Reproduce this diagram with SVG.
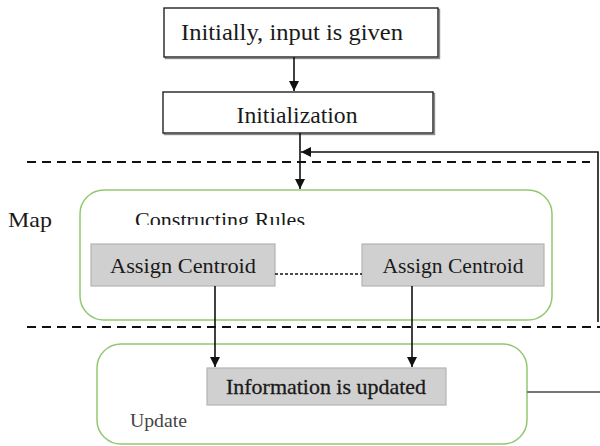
<svg xmlns="http://www.w3.org/2000/svg" width="600" height="446" viewBox="0 0 600 446">
  <style>
    text { font-family: 'Liberation Serif', 'Times New Roman', Times, serif; fill: #1a1a1a; }
    .box { fill: #ffffff; stroke: #222222; stroke-width: 1.4; }
    .shadow { fill: none; stroke: #8a8a8a; stroke-width: 1.4; }
    .stage { fill: #ffffff; stroke: #93c872; stroke-width: 1.5; }
    .step { fill: #d0d0d0; stroke: #b4b4b4; stroke-width: 1.2; }
    .wire { fill: none; stroke: #111111; stroke-width: 1.6; }
    .sep { fill: none; stroke: #111111; stroke-width: 1.8; stroke-dasharray: 9 6; }
  </style>
  <defs>
    <marker id="head" viewBox="0 0 10 10" refX="10" refY="5" markerWidth="10" markerHeight="10" markerUnits="userSpaceOnUse" orient="auto">
      <path d="M0,0 L10,5 L0,10 Z" fill="#111111"/>
    </marker>
    <clipPath id="titleClip">
      <rect x="120" y="200" width="220" height="25"/>
    </clipPath>
  </defs>

  <!-- phase separators and side label -->
  <g id="separators">
    <line class="sep" x1="27" y1="162" x2="590" y2="162"/>
    <line class="sep" x1="27" y1="327" x2="600" y2="327"/>
    <text x="8" y="227" font-size="22" textLength="44" lengthAdjust="spacingAndGlyphs">Map</text>
  </g>

  <g id="input">
    <rect class="shadow" x="165.5" y="9.5" width="274" height="49"/>
    <rect class="box" x="164" y="8" width="274" height="49"/>
    <text x="292" y="40" font-size="23" text-anchor="middle" textLength="222" lengthAdjust="spacingAndGlyphs">Initially, input is given</text>
  </g>

  <g id="init">
    <rect class="shadow" x="164.5" y="93.5" width="270" height="41"/>
    <rect class="box" x="163" y="92" width="270" height="41"/>
    <text x="297" y="123" font-size="23" text-anchor="middle" textLength="121" lengthAdjust="spacingAndGlyphs">Initialization</text>
  </g>

  <g id="map-stage">
    <rect class="stage" x="80" y="190" width="472" height="130" rx="24" ry="24"/>
    <text x="135" y="227" font-size="22" clip-path="url(#titleClip)" textLength="170" lengthAdjust="spacingAndGlyphs">Constructing Rules</text>
  </g>

  <g id="centroid-a">
    <rect class="step" x="91" y="244" width="184" height="42"/>
    <text x="183" y="273" font-size="22" text-anchor="middle" textLength="146" lengthAdjust="spacingAndGlyphs">Assign Centroid</text>
  </g>

  <g id="centroid-b">
    <rect class="step" x="362" y="244" width="182" height="42"/>
    <text x="453" y="273" font-size="22" text-anchor="middle" textLength="141" lengthAdjust="spacingAndGlyphs">Assign Centroid</text>
  </g>

  <g id="update-stage">
    <rect class="stage" x="97" y="344" width="430" height="100" rx="24" ry="24"/>
    <text x="130" y="427" font-size="18" style="fill:#444444" textLength="57" lengthAdjust="spacingAndGlyphs">Update</text>
  </g>

  <g id="info">
    <rect class="step" x="207" y="368" width="239" height="37"/>
    <text x="326" y="394" font-size="22" text-anchor="middle" stroke="#1a1a1a" stroke-width="0.3" textLength="200" lengthAdjust="spacingAndGlyphs">Information is updated</text>
  </g>

  <g id="connectors">
    <line class="wire" x1="294" y1="57" x2="294" y2="91" marker-end="url(#head)"/>
    <line class="wire" x1="300" y1="133" x2="300" y2="189" marker-end="url(#head)"/>
    <polyline class="wire" points="598,322 598,152 301,152" marker-end="url(#head)"/>
    <line class="wire" x1="275" y1="274" x2="362" y2="274" stroke-dasharray="3 2"/>
    <line class="wire" x1="215" y1="286" x2="215" y2="367" marker-end="url(#head)"/>
    <line class="wire" x1="412" y1="286" x2="412" y2="367" marker-end="url(#head)"/>
    <line x1="527" y1="392" x2="600" y2="392" stroke="#777777" stroke-width="2"/>
  </g>
</svg>
